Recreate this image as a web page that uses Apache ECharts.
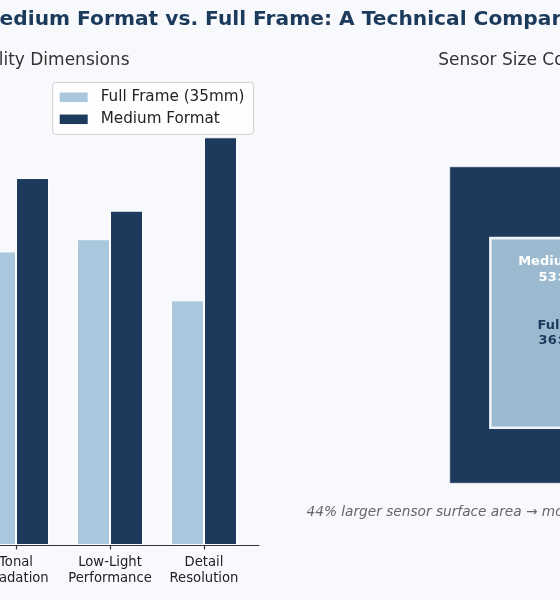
<!DOCTYPE html>
<html>
<head>
<meta charset="utf-8">
<script src="https://cdn.jsdelivr.net/npm/echarts@6/dist/echarts.min.js"></script>
<style>
html,body{margin:0;padding:0;background:#f7f9fc;}
#chart{width:560px;height:600px;}
</style>
</head>
<body>
<div id="chart"></div>
<script>
// ---- data ----
const categories = ['Tonal\nGradation', 'Low-Light\nPerformance', 'Detail\nResolution'];
const seriesNames = ['Full Frame (35mm)', 'Medium Format'];
const fullFrameScores = [7.2, 7.5, 6.0];
const mediumFormatScores = [9.0, 8.2, 10.0];
const sensorLabels = ['Medium Format\n53×40mm', 'Full Frame\n36×24mm'];
const sensorWidthsMm = [53, 36];
const sensorHeightsMm = [40, 24];
const titleText = 'Medium Format vs. Full Frame: A Technical Comparison';
const leftSubtitle = 'Image Quality Dimensions';
const rightSubtitle = 'Sensor Size Comparison';
const captionText = '44% larger sensor surface area → more';

const FONT = '"DejaVu Sans", sans-serif';
const NAVY = '#1b3a5c';
const LIGHT = '#a9c8de';

const chart = echarts.init(document.getElementById('chart'), null, {renderer: 'canvas'});

const option = {
  backgroundColor: '#f7f9fc',
  animation: false,
  textStyle: {fontFamily: FONT},
  legend: {
    orient: 'vertical',
    left: 52.7, top: 82.3,
    data: seriesNames,
    icon: 'rect',
    itemWidth: 28, itemHeight: 9.5, itemGap: 7,
    padding: [7.5, 9, 7.5, 7],
    backgroundColor: 'rgba(255,255,255,0.8)',
    borderColor: '#cfcfcf', borderWidth: 1, borderRadius: 3,
    itemStyle: {borderWidth: 0},
    textStyle: {fontSize: 15.2, color: '#222', fontFamily: FONT, padding: [0, 0, 0, 8]}
  },
  grid: [
    {left: 0, width: 259, top: 96.5, height: 448.5, outerBoundsMode: 'none', containLabel: false},
    {left: 426.2, right: 0, top: 127.5, height: 379.2, outerBoundsMode: 'none', containLabel: false}
  ],
  xAxis: [
    {
      gridIndex: 0, type: 'value', min: -0.1702, max: 2.585,
      splitLine: {show: false},
      axisLine: {show: true, onZero: false, lineStyle: {color: '#333', width: 1.2}},
      axisTick: {show: true, customValues: [0, 1, 2], length: 4.5, lineStyle: {color: '#333', width: 1.2}},
      axisLabel: {
        show: true, customValues: [0, 1, 2],
        formatter: v => categories[Math.round(v)] || '',
        fontSize: 13.2, lineHeight: 16, color: '#222', margin: 10, fontFamily: FONT
      }
    },
    {gridIndex: 1, type: 'value', min: -5, max: 23.14, show: false}
  ],
  yAxis: [
    {gridIndex: 0, type: 'value', min: 0, max: 11, show: false},
    {gridIndex: 1, type: 'value', min: -3, max: 45, show: false}
  ],
  series: [
    {
      type: 'bar', name: seriesNames[0], xAxisIndex: 0, yAxisIndex: 0,
      data: fullFrameScores.map((v, i) => [i, v]),
      barWidth: 33, barGap: '0%',
      itemStyle: {color: LIGHT, borderColor: '#ffffff', borderWidth: 1}
    },
    {
      type: 'bar', name: seriesNames[1], xAxisIndex: 0, yAxisIndex: 0,
      data: mediumFormatScores.map((v, i) => [i, v]),
      barWidth: 33, barGap: '0%',
      itemStyle: {color: NAVY, borderColor: '#ffffff', borderWidth: 1}
    },
    {
      type: 'custom', xAxisIndex: 1, yAxisIndex: 1, clip: false,
      data: sensorWidthsMm.map((w, i) => [i, w, sensorHeightsMm[i]]),
      renderItem: function (params, api) {
        const i = api.value(0);
        const w = api.value(1);
        const h = api.value(2);
        const outerW = sensorWidthsMm[0];
        const x0 = (outerW - w) / 2;
        const y0 = i === 0 ? 0 : 7;
        const p0 = api.coord([x0, y0 + h]);
        const p1 = api.coord([x0 + w, y0]);
        const labelY = i === 0 ? (7 + sensorHeightsMm[1] - 4) : (y0 + h / 2);
        const lp = api.coord([outerW / 2, labelY]);
        return {
          type: 'group',
          children: [
            {
              type: 'rect', z2: i,
              shape: {x: p0[0], y: p0[1], width: p1[0] - p0[0], height: p1[1] - p0[1]},
              style: i === 0
                ? {fill: NAVY, stroke: '#9aa9ba', lineWidth: 0.6}
                : {fill: '#9bbad0', stroke: '#eef1f5', lineWidth: 2.6}
            },
            {
              type: 'text', z2: 20, x: lp[0] - 0.3, y: lp[1],
              style: {
                text: sensorLabels[i],
                fill: i === 0 ? '#ffffff' : NAVY,
                font: 'bold 13px ' + FONT,
                align: 'center', verticalAlign: 'middle',
                textAlign: 'center', textVerticalAlign: 'middle',
                lineHeight: 15.5
              }
            }
          ]
        };
      }
    }
  ],
  graphic: [
    {
      type: 'text', x: -20.5, y: 20,
      style: {text: titleText, fill: NAVY, font: 'bold 20.2px ' + FONT,
        align: 'left', verticalAlign: 'middle', textAlign: 'left', textVerticalAlign: 'middle'}
    },
    {
      type: 'text', x: 129.5, y: 60.3,
      style: {text: leftSubtitle, fill: '#333', font: '17px ' + FONT,
        align: 'right', verticalAlign: 'middle', textAlign: 'right', textVerticalAlign: 'middle'}
    },
    {
      type: 'text', x: 438.3, y: 60.3,
      style: {text: rightSubtitle, fill: '#333', font: '17px ' + FONT,
        align: 'left', verticalAlign: 'middle', textAlign: 'left', textVerticalAlign: 'middle'}
    },
    {
      type: 'text', x: 306.5, y: 512.7,
      style: {text: captionText, fill: '#666', font: 'italic 13.7px ' + FONT,
        align: 'left', verticalAlign: 'middle', textAlign: 'left', textVerticalAlign: 'middle'}
    }
  ]
};
chart.setOption(option);
</script>
</body>
</html>
